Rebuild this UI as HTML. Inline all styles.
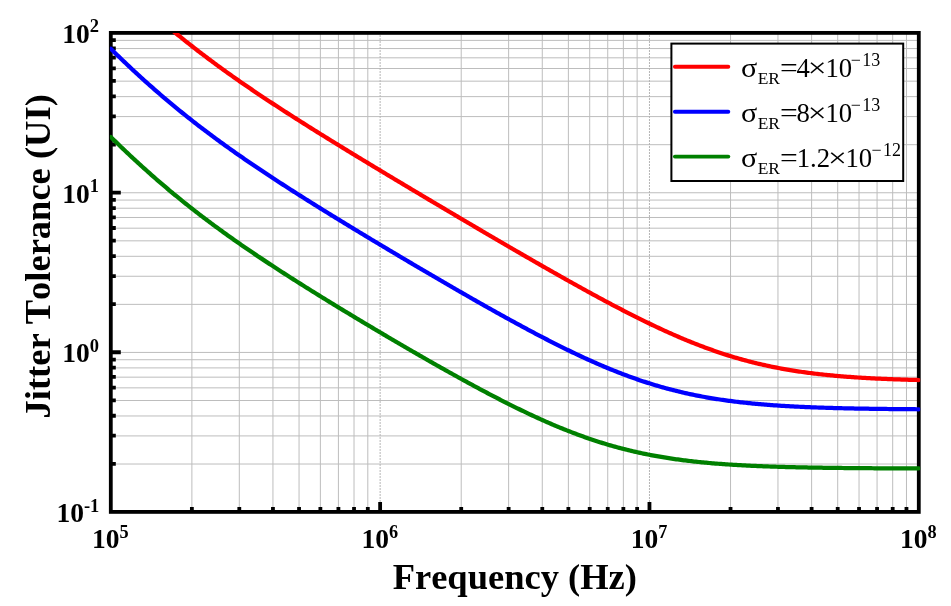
<!DOCTYPE html>
<html><head><meta charset="utf-8"><style>html,body{margin:0;padding:0;background:#fff;overflow:hidden}svg{display:block;will-change:transform}text{font-kerning:none}</style></head><body>
<svg width="951" height="606" viewBox="0 0 951 606">
<rect width="951" height="606" fill="#fff"/>
<defs><clipPath id="c"><rect x="109.9" y="32.89" width="810.3" height="479.01"/></clipPath></defs>
<path d="M191.88 32.89V511.9M239.3 32.89V511.9M272.95 32.89V511.9M299.05 32.89V511.9M320.38 32.89V511.9M338.41 32.89V511.9M354.03 32.89V511.9M367.81 32.89V511.9M461.21 32.89V511.9M508.63 32.89V511.9M542.28 32.89V511.9M568.38 32.89V511.9M589.71 32.89V511.9M607.74 32.89V511.9M623.36 32.89V511.9M637.14 32.89V511.9M730.54 32.89V511.9M777.96 32.89V511.9M811.61 32.89V511.9M837.71 32.89V511.9M859.04 32.89V511.9M877.07 32.89V511.9M892.69 32.89V511.9M906.47 32.89V511.9M110.8 464.03H918.79M110.8 435.92H918.79M110.8 415.97H918.79M110.8 400.5H918.79M110.8 387.85H918.79M110.8 377.16H918.79M110.8 367.9H918.79M110.8 359.74H918.79M110.8 352.43H918.79M110.8 304.36H918.79M110.8 276.25H918.79M110.8 256.3H918.79M110.8 240.83H918.79M110.8 228.18H918.79M110.8 217.49H918.79M110.8 208.23H918.79M110.8 200.07H918.79M110.8 192.76H918.79M110.8 144.69H918.79M110.8 116.58H918.79M110.8 96.63H918.79M110.8 81.16H918.79M110.8 68.51H918.79M110.8 57.82H918.79M110.8 48.56H918.79M110.8 40.4H918.79" stroke="#bdbdbd" stroke-width="1" fill="none"/>
<path d="M380.13 32.89V511.9M649.46 32.89V511.9" stroke="#b4b4b4" stroke-width="1" stroke-dasharray="2 1" stroke-dashoffset="0.9" fill="none"/>
<path d="M191.88 511.9V506.9M239.3 511.9V506.9M272.95 511.9V506.9M299.05 511.9V506.9M320.38 511.9V506.9M338.41 511.9V506.9M354.03 511.9V506.9M367.81 511.9V506.9M380.13 511.9V501.9M461.21 511.9V506.9M508.63 511.9V506.9M542.28 511.9V506.9M568.38 511.9V506.9M589.71 511.9V506.9M607.74 511.9V506.9M623.36 511.9V506.9M637.14 511.9V506.9M649.46 511.9V501.9M730.54 511.9V506.9M777.96 511.9V506.9M811.61 511.9V506.9M837.71 511.9V506.9M859.04 511.9V506.9M877.07 511.9V506.9M892.69 511.9V506.9M906.47 511.9V506.9M110.8 463.83H115.8M110.8 435.72H115.8M110.8 415.77H115.8M110.8 400.3H115.8M110.8 387.65H115.8M110.8 376.96H115.8M110.8 367.7H115.8M110.8 359.54H115.8M110.8 352.23H120.8M110.8 304.16H115.8M110.8 276.05H115.8M110.8 256.1H115.8M110.8 240.63H115.8M110.8 227.98H115.8M110.8 217.29H115.8M110.8 208.03H115.8M110.8 199.87H115.8M110.8 192.56H120.8M110.8 144.49H115.8M110.8 116.38H115.8M110.8 96.43H115.8M110.8 80.96H115.8M110.8 68.31H115.8M110.8 57.62H115.8M110.8 48.36H115.8M110.8 40.2H115.8" stroke="#000" stroke-width="3.8" fill="none"/>
<rect x="110.8" y="32.89" width="807.99" height="479.01" stroke="#000" stroke-width="3.8" fill="none"/>
<g clip-path="url(#c)" fill="none" stroke-width="4.25" stroke-linejoin="round" stroke-linecap="round">
<polyline points="140.8,2.97 142.3,4.33 143.8,5.68 145.3,7.03 146.8,8.37 148.3,9.71 149.8,11.04 151.3,12.37 152.8,13.69 154.3,15 155.8,16.31 157.3,17.61 158.8,18.91 160.3,20.2 161.8,21.48 163.3,22.76 164.8,24.04 166.3,25.31 167.8,26.57 169.3,27.83 170.8,29.08 172.3,30.32 173.8,31.56 175.3,32.8 176.8,34.03 178.3,35.25 179.8,36.47 181.3,37.69 182.8,38.9 184.3,40.1 185.8,41.3 187.3,42.49 188.8,43.68 190.3,44.86 191.8,46.04 193.3,47.21 194.8,48.38 196.3,49.54 197.8,50.7 199.3,51.86 200.8,53.01 202.3,54.15 203.8,55.29 205.3,56.42 206.8,57.55 208.3,58.68 209.8,59.8 211.3,60.92 212.8,62.03 214.3,63.14 215.8,64.24 217.3,65.34 218.8,66.44 220.3,67.53 221.8,68.62 223.3,69.7 224.8,70.78 226.3,71.86 227.8,72.93 229.3,74 230.8,75.07 232.3,76.13 233.8,77.19 235.3,78.24 236.8,79.29 238.3,80.34 239.8,81.38 241.3,82.43 242.8,83.46 244.3,84.5 245.8,85.53 247.3,86.56 248.8,87.58 250.3,88.61 251.8,89.63 253.3,90.64 254.8,91.66 256.3,92.67 257.8,93.68 259.3,94.68 260.8,95.69 262.3,96.69 263.8,97.69 265.3,98.68 266.8,99.68 268.3,100.67 269.8,101.66 271.3,102.64 272.8,103.63 274.3,104.61 275.8,105.59 277.3,106.57 278.8,107.54 280.3,108.52 281.8,109.49 283.3,110.46 284.8,111.43 286.3,112.4 287.8,113.36 289.3,114.32 290.8,115.28 292.3,116.24 293.8,117.2 295.3,118.16 296.8,119.11 298.3,120.06 299.8,121.02 301.3,121.97 302.8,122.91 304.3,123.86 305.8,124.81 307.3,125.75 308.8,126.69 310.3,127.64 311.8,128.58 313.3,129.52 314.8,130.45 316.3,131.39 317.8,132.33 319.3,133.26 320.8,134.19 322.3,135.13 323.8,136.06 325.3,136.99 326.8,137.92 328.3,138.84 329.8,139.77 331.3,140.7 332.8,141.62 334.3,142.55 335.8,143.47 337.3,144.39 338.8,145.31 340.3,146.23 341.8,147.15 343.3,148.07 344.8,148.99 346.3,149.91 347.8,150.83 349.3,151.74 350.8,152.66 352.3,153.57 353.8,154.49 355.3,155.4 356.8,156.31 358.3,157.22 359.8,158.14 361.3,159.05 362.8,159.96 364.3,160.87 365.8,161.78 367.3,162.68 368.8,163.59 370.3,164.5 371.8,165.41 373.3,166.31 374.8,167.22 376.3,168.12 377.8,169.03 379.3,169.93 380.8,170.84 382.3,171.74 383.8,172.64 385.3,173.54 386.8,174.45 388.3,175.35 389.8,176.25 391.3,177.15 392.8,178.05 394.3,178.95 395.8,179.85 397.3,180.75 398.8,181.65 400.3,182.55 401.8,183.44 403.3,184.34 404.8,185.24 406.3,186.13 407.8,187.03 409.3,187.93 410.8,188.82 412.3,189.72 413.8,190.61 415.3,191.51 416.8,192.4 418.3,193.3 419.8,194.19 421.3,195.09 422.8,195.98 424.3,196.87 425.8,197.76 427.3,198.66 428.8,199.55 430.3,200.44 431.8,201.33 433.3,202.22 434.8,203.11 436.3,204 437.8,204.89 439.3,205.78 440.8,206.67 442.3,207.56 443.8,208.45 445.3,209.34 446.8,210.23 448.3,211.12 449.8,212 451.3,212.89 452.8,213.78 454.3,214.67 455.8,215.55 457.3,216.44 458.8,217.32 460.3,218.21 461.8,219.1 463.3,219.98 464.8,220.86 466.3,221.75 467.8,222.63 469.3,223.52 470.8,224.4 472.3,225.28 473.8,226.17 475.3,227.05 476.8,227.93 478.3,228.81 479.8,229.69 481.3,230.57 482.8,231.46 484.3,232.34 485.8,233.22 487.3,234.09 488.8,234.97 490.3,235.85 491.8,236.73 493.3,237.61 494.8,238.49 496.3,239.36 497.8,240.24 499.3,241.12 500.8,241.99 502.3,242.87 503.8,243.74 505.3,244.62 506.8,245.49 508.3,246.36 509.8,247.24 511.3,248.11 512.8,248.98 514.3,249.85 515.8,250.72 517.3,251.59 518.8,252.46 520.3,253.33 521.8,254.2 523.3,255.07 524.8,255.93 526.3,256.8 527.8,257.67 529.3,258.53 530.8,259.4 532.3,260.26 533.8,261.12 535.3,261.99 536.8,262.85 538.3,263.71 539.8,264.57 541.3,265.43 542.8,266.29 544.3,267.14 545.8,268 547.3,268.86 548.8,269.71 550.3,270.57 551.8,271.42 553.3,272.27 554.8,273.12 556.3,273.97 557.8,274.82 559.3,275.67 560.8,276.52 562.3,277.37 563.8,278.21 565.3,279.06 566.8,279.9 568.3,280.74 569.8,281.58 571.3,282.42 572.8,283.26 574.3,284.1 575.8,284.93 577.3,285.77 578.8,286.6 580.3,287.43 581.8,288.26 583.3,289.09 584.8,289.92 586.3,290.74 587.8,291.57 589.3,292.39 590.8,293.21 592.3,294.03 593.8,294.85 595.3,295.66 596.8,296.48 598.3,297.29 599.8,298.1 601.3,298.91 602.8,299.71 604.3,300.52 605.8,301.32 607.3,302.12 608.8,302.92 610.3,303.72 611.8,304.51 613.3,305.3 614.8,306.09 616.3,306.88 617.8,307.66 619.3,308.45 620.8,309.23 622.3,310 623.8,310.78 625.3,311.55 626.8,312.32 628.3,313.09 629.8,313.85 631.3,314.61 632.8,315.37 634.3,316.13 635.8,316.88 637.3,317.63 638.8,318.38 640.3,319.12 641.8,319.86 643.3,320.6 644.8,321.34 646.3,322.07 647.8,322.79 649.3,323.52 650.8,324.24 652.3,324.96 653.8,325.67 655.3,326.38 656.8,327.09 658.3,327.79 659.8,328.49 661.3,329.18 662.8,329.87 664.3,330.56 665.8,331.24 667.3,331.92 668.8,332.59 670.3,333.26 671.8,333.93 673.3,334.59 674.8,335.25 676.3,335.9 677.8,336.55 679.3,337.19 680.8,337.83 682.3,338.47 683.8,339.1 685.3,339.72 686.8,340.34 688.3,340.96 689.8,341.57 691.3,342.18 692.8,342.78 694.3,343.37 695.8,343.96 697.3,344.55 698.8,345.13 700.3,345.7 701.8,346.27 703.3,346.84 704.8,347.4 706.3,347.95 707.8,348.5 709.3,349.04 710.8,349.58 712.3,350.12 713.8,350.64 715.3,351.16 716.8,351.68 718.3,352.19 719.8,352.69 721.3,353.19 722.8,353.69 724.3,354.17 725.8,354.66 727.3,355.13 728.8,355.6 730.3,356.07 731.8,356.53 733.3,356.98 734.8,357.43 736.3,357.87 737.8,358.31 739.3,358.74 740.8,359.16 742.3,359.58 743.8,360 745.3,360.41 746.8,360.81 748.3,361.21 749.8,361.6 751.3,361.98 752.8,362.36 754.3,362.74 755.8,363.11 757.3,363.47 758.8,363.83 760.3,364.18 761.8,364.53 763.3,364.87 764.8,365.2 766.3,365.54 767.8,365.86 769.3,366.18 770.8,366.5 772.3,366.81 773.8,367.11 775.3,367.41 776.8,367.7 778.3,367.99 779.8,368.28 781.3,368.56 782.8,368.83 784.3,369.1 785.8,369.37 787.3,369.63 788.8,369.88 790.3,370.13 791.8,370.38 793.3,370.62 794.8,370.86 796.3,371.09 797.8,371.32 799.3,371.54 800.8,371.76 802.3,371.98 803.8,372.19 805.3,372.4 806.8,372.6 808.3,372.8 809.8,373 811.3,373.19 812.8,373.38 814.3,373.56 815.8,373.74 817.3,373.92 818.8,374.09 820.3,374.26 821.8,374.43 823.3,374.59 824.8,374.75 826.3,374.9 827.8,375.05 829.3,375.2 830.8,375.35 832.3,375.49 833.8,375.63 835.3,375.77 836.8,375.9 838.3,376.04 839.8,376.16 841.3,376.29 842.8,376.41 844.3,376.53 845.8,376.65 847.3,376.76 848.8,376.88 850.3,376.99 851.8,377.09 853.3,377.2 854.8,377.3 856.3,377.4 857.8,377.5 859.3,377.6 860.8,377.69 862.3,377.78 863.8,377.87 865.3,377.96 866.8,378.04 868.3,378.13 869.8,378.21 871.3,378.29 872.8,378.37 874.3,378.44 875.8,378.52 877.3,378.59 878.8,378.66 880.3,378.73 881.8,378.8 883.3,378.86 884.8,378.93 886.3,378.99 887.8,379.05 889.3,379.11 890.8,379.17 892.3,379.23 893.8,379.28 895.3,379.34 896.8,379.39 898.3,379.44 899.8,379.49 901.3,379.54 902.8,379.59 904.3,379.64 905.8,379.68 907.3,379.73 908.8,379.77 910.3,379.81 911.8,379.86 913.3,379.9 914.8,379.94 916.3,379.98 918.79,380.04" stroke="#ff0000"/>
<polyline points="110.8,48.83 112.3,50.3 113.8,51.76 115.3,53.23 116.8,54.68 118.3,56.13 119.8,57.58 121.3,59.02 122.8,60.45 124.3,61.88 125.8,63.3 127.3,64.72 128.8,66.13 130.3,67.54 131.8,68.94 133.3,70.34 134.8,71.73 136.3,73.11 137.8,74.49 139.3,75.86 140.8,77.23 142.3,78.59 143.8,79.95 145.3,81.3 146.8,82.65 148.3,83.98 149.8,85.32 151.3,86.65 152.8,87.97 154.3,89.28 155.8,90.59 157.3,91.9 158.8,93.2 160.3,94.49 161.8,95.78 163.3,97.06 164.8,98.34 166.3,99.61 167.8,100.88 169.3,102.14 170.8,103.39 172.3,104.64 173.8,105.88 175.3,107.12 176.8,108.35 178.3,109.58 179.8,110.8 181.3,112.02 182.8,113.23 184.3,114.44 185.8,115.64 187.3,116.83 188.8,118.02 190.3,119.21 191.8,120.39 193.3,121.56 194.8,122.73 196.3,123.9 197.8,125.06 199.3,126.21 200.8,127.36 202.3,128.51 203.8,129.65 205.3,130.79 206.8,131.92 208.3,133.05 209.8,134.17 211.3,135.29 212.8,136.41 214.3,137.52 215.8,138.62 217.3,139.72 218.8,140.82 220.3,141.91 221.8,143 223.3,144.09 224.8,145.17 226.3,146.25 227.8,147.32 229.3,148.39 230.8,149.46 232.3,150.52 233.8,151.58 235.3,152.64 236.8,153.69 238.3,154.74 239.8,155.78 241.3,156.83 242.8,157.86 244.3,158.9 245.8,159.93 247.3,160.96 248.8,161.99 250.3,163.01 251.8,164.03 253.3,165.05 254.8,166.07 256.3,167.08 257.8,168.09 259.3,169.09 260.8,170.1 262.3,171.1 263.8,172.1 265.3,173.09 266.8,174.09 268.3,175.08 269.8,176.07 271.3,177.06 272.8,178.04 274.3,179.02 275.8,180 277.3,180.98 278.8,181.96 280.3,182.93 281.8,183.9 283.3,184.87 284.8,185.84 286.3,186.81 287.8,187.77 289.3,188.73 290.8,189.7 292.3,190.65 293.8,191.61 295.3,192.57 296.8,193.52 298.3,194.47 299.8,195.42 301.3,196.37 302.8,197.32 304.3,198.27 305.8,199.21 307.3,200.16 308.8,201.1 310.3,202.04 311.8,202.98 313.3,203.92 314.8,204.85 316.3,205.79 317.8,206.72 319.3,207.65 320.8,208.59 322.3,209.52 323.8,210.45 325.3,211.37 326.8,212.3 328.3,213.23 329.8,214.15 331.3,215.08 332.8,216 334.3,216.92 335.8,217.84 337.3,218.76 338.8,219.68 340.3,220.6 341.8,221.52 343.3,222.43 344.8,223.35 346.3,224.26 347.8,225.18 349.3,226.09 350.8,227 352.3,227.92 353.8,228.83 355.3,229.74 356.8,230.65 358.3,231.55 359.8,232.46 361.3,233.37 362.8,234.27 364.3,235.18 365.8,236.08 367.3,236.99 368.8,237.89 370.3,238.8 371.8,239.7 373.3,240.6 374.8,241.5 376.3,242.4 377.8,243.3 379.3,244.2 380.8,245.1 382.3,245.99 383.8,246.89 385.3,247.79 386.8,248.68 388.3,249.58 389.8,250.47 391.3,251.37 392.8,252.26 394.3,253.15 395.8,254.05 397.3,254.94 398.8,255.83 400.3,256.72 401.8,257.61 403.3,258.5 404.8,259.39 406.3,260.28 407.8,261.16 409.3,262.05 410.8,262.94 412.3,263.82 413.8,264.71 415.3,265.59 416.8,266.48 418.3,267.36 419.8,268.24 421.3,269.13 422.8,270.01 424.3,270.89 425.8,271.77 427.3,272.65 428.8,273.53 430.3,274.41 431.8,275.28 433.3,276.16 434.8,277.04 436.3,277.91 437.8,278.79 439.3,279.66 440.8,280.54 442.3,281.41 443.8,282.28 445.3,283.16 446.8,284.03 448.3,284.9 449.8,285.77 451.3,286.64 452.8,287.51 454.3,288.37 455.8,289.24 457.3,290.1 458.8,290.97 460.3,291.83 461.8,292.7 463.3,293.56 464.8,294.42 466.3,295.28 467.8,296.14 469.3,297 470.8,297.86 472.3,298.72 473.8,299.57 475.3,300.43 476.8,301.28 478.3,302.13 479.8,302.98 481.3,303.83 482.8,304.68 484.3,305.53 485.8,306.38 487.3,307.23 488.8,308.07 490.3,308.91 491.8,309.76 493.3,310.6 494.8,311.44 496.3,312.28 497.8,313.11 499.3,313.95 500.8,314.78 502.3,315.62 503.8,316.45 505.3,317.28 506.8,318.11 508.3,318.93 509.8,319.76 511.3,320.58 512.8,321.4 514.3,322.23 515.8,323.04 517.3,323.86 518.8,324.68 520.3,325.49 521.8,326.3 523.3,327.11 524.8,327.92 526.3,328.72 527.8,329.53 529.3,330.33 530.8,331.13 532.3,331.92 533.8,332.72 535.3,333.51 536.8,334.3 538.3,335.09 539.8,335.87 541.3,336.66 542.8,337.44 544.3,338.22 545.8,338.99 547.3,339.76 548.8,340.53 550.3,341.3 551.8,342.07 553.3,342.83 554.8,343.59 556.3,344.34 557.8,345.1 559.3,345.85 560.8,346.6 562.3,347.34 563.8,348.08 565.3,348.82 566.8,349.55 568.3,350.28 569.8,351.01 571.3,351.74 572.8,352.46 574.3,353.17 575.8,353.89 577.3,354.6 578.8,355.3 580.3,356.01 581.8,356.7 583.3,357.4 584.8,358.09 586.3,358.78 587.8,359.46 589.3,360.14 590.8,360.81 592.3,361.48 593.8,362.15 595.3,362.81 596.8,363.47 598.3,364.12 599.8,364.77 601.3,365.41 602.8,366.05 604.3,366.68 605.8,367.31 607.3,367.94 608.8,368.56 610.3,369.17 611.8,369.79 613.3,370.39 614.8,370.99 616.3,371.59 617.8,372.18 619.3,372.76 620.8,373.34 622.3,373.92 623.8,374.49 625.3,375.05 626.8,375.61 628.3,376.16 629.8,376.71 631.3,377.25 632.8,377.79 634.3,378.32 635.8,378.85 637.3,379.37 638.8,379.89 640.3,380.4 641.8,380.9 643.3,381.4 644.8,381.89 646.3,382.38 647.8,382.86 649.3,383.34 650.8,383.81 652.3,384.27 653.8,384.73 655.3,385.18 656.8,385.63 658.3,386.07 659.8,386.51 661.3,386.94 662.8,387.36 664.3,387.78 665.8,388.2 667.3,388.6 668.8,389.01 670.3,389.4 671.8,389.79 673.3,390.18 674.8,390.56 676.3,390.93 677.8,391.3 679.3,391.66 680.8,392.02 682.3,392.37 683.8,392.72 685.3,393.06 686.8,393.4 688.3,393.73 689.8,394.05 691.3,394.37 692.8,394.69 694.3,395 695.8,395.3 697.3,395.6 698.8,395.89 700.3,396.18 701.8,396.47 703.3,396.74 704.8,397.02 706.3,397.29 707.8,397.55 709.3,397.81 710.8,398.07 712.3,398.32 713.8,398.56 715.3,398.8 716.8,399.04 718.3,399.27 719.8,399.5 721.3,399.73 722.8,399.95 724.3,400.16 725.8,400.37 727.3,400.58 728.8,400.78 730.3,400.98 731.8,401.18 733.3,401.37 734.8,401.55 736.3,401.74 737.8,401.92 739.3,402.09 740.8,402.27 742.3,402.43 743.8,402.6 745.3,402.76 746.8,402.92 748.3,403.08 749.8,403.23 751.3,403.38 752.8,403.52 754.3,403.67 755.8,403.81 757.3,403.94 758.8,404.08 760.3,404.21 761.8,404.34 763.3,404.46 764.8,404.58 766.3,404.7 767.8,404.82 769.3,404.93 770.8,405.05 772.3,405.16 773.8,405.26 775.3,405.37 776.8,405.47 778.3,405.57 779.8,405.67 781.3,405.76 782.8,405.86 784.3,405.95 785.8,406.04 787.3,406.13 788.8,406.21 790.3,406.29 791.8,406.38 793.3,406.45 794.8,406.53 796.3,406.61 797.8,406.68 799.3,406.75 800.8,406.83 802.3,406.89 803.8,406.96 805.3,407.03 806.8,407.09 808.3,407.15 809.8,407.22 811.3,407.28 812.8,407.33 814.3,407.39 815.8,407.45 817.3,407.5 818.8,407.55 820.3,407.61 821.8,407.66 823.3,407.71 824.8,407.75 826.3,407.8 827.8,407.85 829.3,407.89 830.8,407.94 832.3,407.98 833.8,408.02 835.3,408.06 836.8,408.1 838.3,408.14 839.8,408.18 841.3,408.21 842.8,408.25 844.3,408.28 845.8,408.32 847.3,408.35 848.8,408.38 850.3,408.42 851.8,408.45 853.3,408.48 854.8,408.51 856.3,408.54 857.8,408.56 859.3,408.59 860.8,408.62 862.3,408.64 863.8,408.67 865.3,408.69 866.8,408.72 868.3,408.74 869.8,408.76 871.3,408.79 872.8,408.81 874.3,408.83 875.8,408.85 877.3,408.87 878.8,408.89 880.3,408.91 881.8,408.93 883.3,408.95 884.8,408.96 886.3,408.98 887.8,409 889.3,409.02 890.8,409.03 892.3,409.05 893.8,409.06 895.3,409.08 896.8,409.09 898.3,409.11 899.8,409.12 901.3,409.13 902.8,409.15 904.3,409.16 905.8,409.17 907.3,409.19 908.8,409.2 910.3,409.21 911.8,409.22 913.3,409.23 914.8,409.24 916.3,409.25 918.79,409.27" stroke="#0000ff"/>
<polyline points="110.8,136.99 112.3,138.46 113.8,139.93 115.3,141.39 116.8,142.84 118.3,144.29 119.8,145.74 121.3,147.18 122.8,148.61 124.3,150.04 125.8,151.46 127.3,152.88 128.8,154.29 130.3,155.69 131.8,157.09 133.3,158.49 134.8,159.88 136.3,161.26 137.8,162.64 139.3,164.01 140.8,165.38 142.3,166.74 143.8,168.09 145.3,169.44 146.8,170.79 148.3,172.13 149.8,173.46 151.3,174.78 152.8,176.11 154.3,177.42 155.8,178.73 157.3,180.03 158.8,181.33 160.3,182.63 161.8,183.91 163.3,185.19 164.8,186.47 166.3,187.74 167.8,189 169.3,190.26 170.8,191.52 172.3,192.76 173.8,194.01 175.3,195.24 176.8,196.47 178.3,197.7 179.8,198.92 181.3,200.14 182.8,201.35 184.3,202.55 185.8,203.75 187.3,204.94 188.8,206.13 190.3,207.32 191.8,208.5 193.3,209.67 194.8,210.84 196.3,212 197.8,213.16 199.3,214.32 200.8,215.47 202.3,216.61 203.8,217.75 205.3,218.89 206.8,220.02 208.3,221.14 209.8,222.27 211.3,223.38 212.8,224.5 214.3,225.61 215.8,226.71 217.3,227.81 218.8,228.91 220.3,230 221.8,231.09 223.3,232.17 224.8,233.25 226.3,234.33 227.8,235.4 229.3,236.47 230.8,237.54 232.3,238.6 233.8,239.66 235.3,240.71 236.8,241.76 238.3,242.81 239.8,243.85 241.3,244.89 242.8,245.93 244.3,246.97 245.8,248 247.3,249.02 248.8,250.05 250.3,251.07 251.8,252.09 253.3,253.11 254.8,254.12 256.3,255.13 257.8,256.14 259.3,257.14 260.8,258.14 262.3,259.14 263.8,260.14 265.3,261.14 266.8,262.13 268.3,263.12 269.8,264.11 271.3,265.09 272.8,266.07 274.3,267.05 275.8,268.03 277.3,269.01 278.8,269.98 280.3,270.95 281.8,271.92 283.3,272.89 284.8,273.86 286.3,274.82 287.8,275.78 289.3,276.74 290.8,277.7 292.3,278.66 293.8,279.61 295.3,280.57 296.8,281.52 298.3,282.47 299.8,283.41 301.3,284.36 302.8,285.31 304.3,286.25 305.8,287.19 307.3,288.13 308.8,289.07 310.3,290.01 311.8,290.94 313.3,291.88 314.8,292.81 316.3,293.74 317.8,294.67 319.3,295.6 320.8,296.53 322.3,297.46 323.8,298.38 325.3,299.31 326.8,300.23 328.3,301.15 329.8,302.07 331.3,302.99 332.8,303.91 334.3,304.83 335.8,305.74 337.3,306.66 338.8,307.57 340.3,308.49 341.8,309.4 343.3,310.31 344.8,311.22 346.3,312.13 347.8,313.04 349.3,313.94 350.8,314.85 352.3,315.75 353.8,316.66 355.3,317.56 356.8,318.46 358.3,319.37 359.8,320.27 361.3,321.17 362.8,322.06 364.3,322.96 365.8,323.86 367.3,324.75 368.8,325.65 370.3,326.54 371.8,327.44 373.3,328.33 374.8,329.22 376.3,330.11 377.8,331 379.3,331.89 380.8,332.78 382.3,333.67 383.8,334.55 385.3,335.44 386.8,336.32 388.3,337.21 389.8,338.09 391.3,338.97 392.8,339.85 394.3,340.73 395.8,341.61 397.3,342.49 398.8,343.37 400.3,344.25 401.8,345.12 403.3,346 404.8,346.87 406.3,347.74 407.8,348.62 409.3,349.49 410.8,350.36 412.3,351.23 413.8,352.09 415.3,352.96 416.8,353.83 418.3,354.69 419.8,355.56 421.3,356.42 422.8,357.28 424.3,358.14 425.8,359 427.3,359.86 428.8,360.72 430.3,361.57 431.8,362.43 433.3,363.28 434.8,364.13 436.3,364.98 437.8,365.83 439.3,366.68 440.8,367.53 442.3,368.38 443.8,369.22 445.3,370.06 446.8,370.91 448.3,371.75 449.8,372.59 451.3,373.42 452.8,374.26 454.3,375.09 455.8,375.93 457.3,376.76 458.8,377.59 460.3,378.42 461.8,379.24 463.3,380.07 464.8,380.89 466.3,381.71 467.8,382.53 469.3,383.35 470.8,384.16 472.3,384.98 473.8,385.79 475.3,386.6 476.8,387.41 478.3,388.21 479.8,389.02 481.3,389.82 482.8,390.62 484.3,391.41 485.8,392.21 487.3,393 488.8,393.79 490.3,394.58 491.8,395.36 493.3,396.15 494.8,396.93 496.3,397.71 497.8,398.48 499.3,399.25 500.8,400.02 502.3,400.79 503.8,401.55 505.3,402.31 506.8,403.07 508.3,403.83 509.8,404.58 511.3,405.33 512.8,406.07 514.3,406.82 515.8,407.56 517.3,408.29 518.8,409.03 520.3,409.75 521.8,410.48 523.3,411.2 524.8,411.92 526.3,412.64 527.8,413.35 529.3,414.06 530.8,414.76 532.3,415.46 533.8,416.16 535.3,416.85 536.8,417.54 538.3,418.22 539.8,418.9 541.3,419.58 542.8,420.25 544.3,420.92 545.8,421.58 547.3,422.24 548.8,422.89 550.3,423.54 551.8,424.19 553.3,424.83 554.8,425.47 556.3,426.1 557.8,426.72 559.3,427.35 560.8,427.96 562.3,428.58 563.8,429.18 565.3,429.78 566.8,430.38 568.3,430.97 569.8,431.56 571.3,432.14 572.8,432.72 574.3,433.29 575.8,433.86 577.3,434.42 578.8,434.97 580.3,435.52 581.8,436.07 583.3,436.61 584.8,437.14 586.3,437.67 587.8,438.19 589.3,438.71 590.8,439.22 592.3,439.72 593.8,440.22 595.3,440.72 596.8,441.21 598.3,441.69 599.8,442.17 601.3,442.64 602.8,443.11 604.3,443.57 605.8,444.02 607.3,444.47 608.8,444.92 610.3,445.35 611.8,445.78 613.3,446.21 614.8,446.63 616.3,447.05 617.8,447.46 619.3,447.86 620.8,448.26 622.3,448.65 623.8,449.04 625.3,449.42 626.8,449.79 628.3,450.16 629.8,450.53 631.3,450.89 632.8,451.24 634.3,451.59 635.8,451.93 637.3,452.27 638.8,452.6 640.3,452.93 641.8,453.25 643.3,453.56 644.8,453.87 646.3,454.18 647.8,454.48 649.3,454.77 650.8,455.06 652.3,455.35 653.8,455.63 655.3,455.91 656.8,456.18 658.3,456.44 659.8,456.7 661.3,456.96 662.8,457.21 664.3,457.46 665.8,457.7 667.3,457.94 668.8,458.17 670.3,458.4 671.8,458.63 673.3,458.85 674.8,459.06 676.3,459.28 677.8,459.48 679.3,459.69 680.8,459.89 682.3,460.08 683.8,460.28 685.3,460.46 686.8,460.65 688.3,460.83 689.8,461.01 691.3,461.18 692.8,461.35 694.3,461.52 695.8,461.68 697.3,461.84 698.8,462 700.3,462.15 701.8,462.3 703.3,462.44 704.8,462.59 706.3,462.73 707.8,462.87 709.3,463 710.8,463.13 712.3,463.26 713.8,463.39 715.3,463.51 716.8,463.63 718.3,463.75 719.8,463.86 721.3,463.98 722.8,464.09 724.3,464.19 725.8,464.3 727.3,464.4 728.8,464.5 730.3,464.6 731.8,464.7 733.3,464.79 734.8,464.88 736.3,464.97 737.8,465.06 739.3,465.15 740.8,465.23 742.3,465.31 743.8,465.39 745.3,465.47 746.8,465.55 748.3,465.62 749.8,465.69 751.3,465.77 752.8,465.83 754.3,465.9 755.8,465.97 757.3,466.03 758.8,466.1 760.3,466.16 761.8,466.22 763.3,466.28 764.8,466.33 766.3,466.39 767.8,466.45 769.3,466.5 770.8,466.55 772.3,466.6 773.8,466.65 775.3,466.7 776.8,466.75 778.3,466.79 779.8,466.84 781.3,466.88 782.8,466.93 784.3,466.97 785.8,467.01 787.3,467.05 788.8,467.09 790.3,467.12 791.8,467.16 793.3,467.2 794.8,467.23 796.3,467.27 797.8,467.3 799.3,467.33 800.8,467.37 802.3,467.4 803.8,467.43 805.3,467.46 806.8,467.49 808.3,467.51 809.8,467.54 811.3,467.57 812.8,467.6 814.3,467.62 815.8,467.65 817.3,467.67 818.8,467.69 820.3,467.72 821.8,467.74 823.3,467.76 824.8,467.78 826.3,467.8 827.8,467.82 829.3,467.84 830.8,467.86 832.3,467.88 833.8,467.9 835.3,467.92 836.8,467.94 838.3,467.95 839.8,467.97 841.3,467.99 842.8,468 844.3,468.02 845.8,468.03 847.3,468.05 848.8,468.06 850.3,468.08 851.8,468.09 853.3,468.1 854.8,468.12 856.3,468.13 857.8,468.14 859.3,468.15 860.8,468.16 862.3,468.18 863.8,468.19 865.3,468.2 866.8,468.21 868.3,468.22 869.8,468.23 871.3,468.24 872.8,468.25 874.3,468.26 875.8,468.27 877.3,468.28 878.8,468.28 880.3,468.29 881.8,468.3 883.3,468.31 884.8,468.32 886.3,468.32 887.8,468.33 889.3,468.34 890.8,468.35 892.3,468.35 893.8,468.36 895.3,468.37 896.8,468.37 898.3,468.38 899.8,468.38 901.3,468.39 902.8,468.4 904.3,468.4 905.8,468.41 907.3,468.41 908.8,468.42 910.3,468.42 911.8,468.43 913.3,468.43 914.8,468.44 916.3,468.44 918.79,468.45" stroke="#008000"/>
</g>
<text x="92.1" y="547.8" font-family="Liberation Serif" font-weight="bold" font-size="27.5">10</text><text x="119.6" y="538.3" font-family="Liberation Serif" font-weight="bold" font-size="18.3">5</text>
<text x="361.43" y="547.8" font-family="Liberation Serif" font-weight="bold" font-size="27.5">10</text><text x="388.93" y="538.3" font-family="Liberation Serif" font-weight="bold" font-size="18.3">6</text>
<text x="630.76" y="547.8" font-family="Liberation Serif" font-weight="bold" font-size="27.5">10</text><text x="658.26" y="538.3" font-family="Liberation Serif" font-weight="bold" font-size="18.3">7</text>
<text x="900.09" y="547.8" font-family="Liberation Serif" font-weight="bold" font-size="27.5">10</text><text x="927.59" y="538.3" font-family="Liberation Serif" font-weight="bold" font-size="18.3">8</text>
<text x="62.3" y="42.99" font-family="Liberation Serif" font-weight="bold" font-size="27.5">10</text><text x="89.8" y="32.49" font-family="Liberation Serif" font-weight="bold" font-size="18.5">2</text>
<text x="62.3" y="202.66" font-family="Liberation Serif" font-weight="bold" font-size="27.5">10</text><text x="89.8" y="192.16" font-family="Liberation Serif" font-weight="bold" font-size="18.5">1</text>
<text x="62.3" y="362.33" font-family="Liberation Serif" font-weight="bold" font-size="27.5">10</text><text x="89.8" y="351.83" font-family="Liberation Serif" font-weight="bold" font-size="18.5">0</text>
<text x="56.4" y="522" font-family="Liberation Serif" font-weight="bold" font-size="27.5">10</text><text x="83.9" y="511.5" font-family="Liberation Serif" font-weight="bold" font-size="18.5">-1</text>
<text x="514.8" y="588.8" text-anchor="middle" font-family="Liberation Serif" font-weight="bold" font-size="36.5">Frequency (Hz)</text>
<text transform="translate(49.6 256.35) rotate(-90)" x="0" y="0" text-anchor="middle" font-family="Liberation Serif" font-weight="bold" font-size="36.5">Jitter Tolerance (UI)</text>
<rect x="671.4" y="43.6" width="231.8" height="137.4" fill="#fff" stroke="#000" stroke-width="2"/>
<path d="M674.9 66.7H728.3" stroke="#ff0000" stroke-width="3.9" stroke-linecap="round"/>
<text font-family="Liberation Serif" font-size="26.7" transform="translate(741.05 76.8) scale(1.13 1)">σ</text>
<text font-family="Liberation Serif" font-size="17.4" x="757.7" y="84.1">ER</text>
<text font-family="Liberation Serif" font-size="26.7" transform="translate(780 76.8) scale(1.18 1)">=</text>
<text font-family="Liberation Serif" font-size="26.7" x="796.4" y="76.8">4</text>
<text font-family="Liberation Serif" font-size="26.7" transform="translate(807.83 76.8) scale(1.25 1)">×</text>
<text font-family="Liberation Serif" font-size="26.7" x="825.45" y="76.8">10</text>
<text font-family="Liberation Serif" font-size="18" x="850.8" y="65.6">−</text>
<text font-family="Liberation Serif" font-size="18" x="862.32" y="65.6">13</text>
<path d="M674.9 111.7H728.3" stroke="#0000ff" stroke-width="3.9" stroke-linecap="round"/>
<text font-family="Liberation Serif" font-size="26.7" transform="translate(741.05 121.85) scale(1.13 1)">σ</text>
<text font-family="Liberation Serif" font-size="17.4" x="757.7" y="129.15">ER</text>
<text font-family="Liberation Serif" font-size="26.7" transform="translate(780 121.85) scale(1.18 1)">=</text>
<text font-family="Liberation Serif" font-size="26.7" x="796.4" y="121.85">8</text>
<text font-family="Liberation Serif" font-size="26.7" transform="translate(807.83 121.85) scale(1.25 1)">×</text>
<text font-family="Liberation Serif" font-size="26.7" x="825.45" y="121.85">10</text>
<text font-family="Liberation Serif" font-size="18" x="850.8" y="110.65">−</text>
<text font-family="Liberation Serif" font-size="18" x="862.32" y="110.65">13</text>
<path d="M674.9 156.6H728.3" stroke="#008000" stroke-width="3.9" stroke-linecap="round"/>
<text font-family="Liberation Serif" font-size="26.7" transform="translate(741.05 166.9) scale(1.13 1)">σ</text>
<text font-family="Liberation Serif" font-size="17.4" x="757.7" y="174.2">ER</text>
<text font-family="Liberation Serif" font-size="26.7" transform="translate(780 166.9) scale(1.18 1)">=</text>
<text font-family="Liberation Serif" font-size="26.7" x="796.65" y="166.9">1.2</text>
<text font-family="Liberation Serif" font-size="26.7" transform="translate(828.03 166.9) scale(1.25 1)">×</text>
<text font-family="Liberation Serif" font-size="26.7" x="845.45" y="166.9">10</text>
<text font-family="Liberation Serif" font-size="18" x="871.5" y="155.7">−</text>
<text font-family="Liberation Serif" font-size="18" x="883.12" y="155.7">12</text>
</svg></body></html>
